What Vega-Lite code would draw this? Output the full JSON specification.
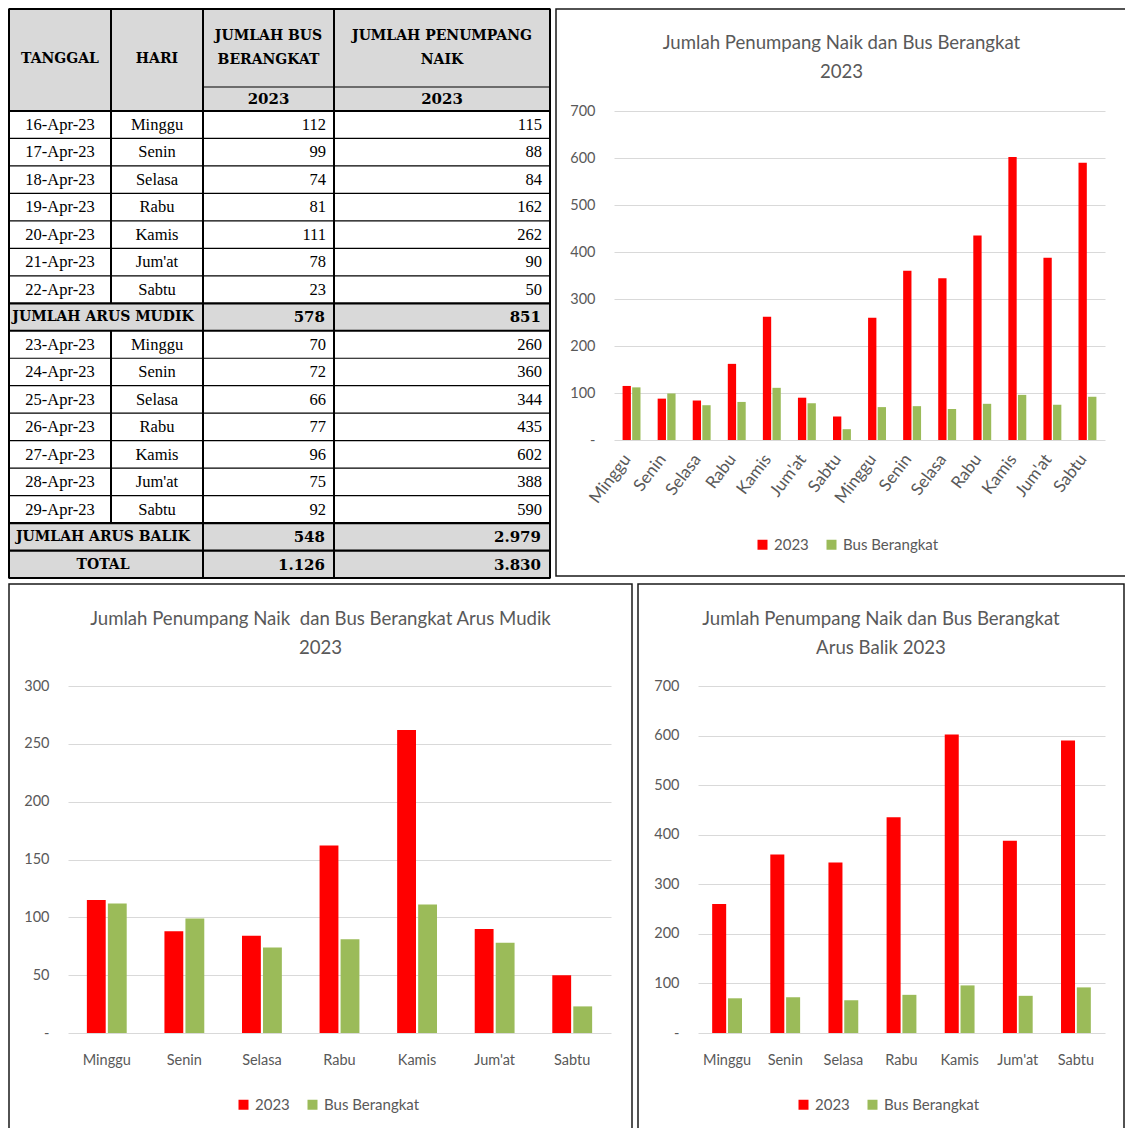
{
  "$schema": "https://vega.github.io/schema/vega-lite/v6.json",
  "padding": {"left": 7, "top": 7, "right": 0, "bottom": 0},
  "background": "white",
  "spacing": 3,
  "resolve": {"scale": {"color": "independent"}, "legend": {"color": "independent"}},
  "datasets": {
    "rows": [
      {"tanggal": "16-Apr-23", "hari": "Minggu", "arus": "mudik", "bus": 112, "pnp": 115, "row": 2},
      {"tanggal": "17-Apr-23", "hari": "Senin", "arus": "mudik", "bus": 99, "pnp": 88, "row": 3},
      {"tanggal": "18-Apr-23", "hari": "Selasa", "arus": "mudik", "bus": 74, "pnp": 84, "row": 4},
      {"tanggal": "19-Apr-23", "hari": "Rabu", "arus": "mudik", "bus": 81, "pnp": 162, "row": 5},
      {"tanggal": "20-Apr-23", "hari": "Kamis", "arus": "mudik", "bus": 111, "pnp": 262, "row": 6},
      {"tanggal": "21-Apr-23", "hari": "Jum'at", "arus": "mudik", "bus": 78, "pnp": 90, "row": 7},
      {"tanggal": "22-Apr-23", "hari": "Sabtu", "arus": "mudik", "bus": 23, "pnp": 50, "row": 8},
      {"tanggal": "23-Apr-23", "hari": "Minggu", "arus": "balik", "bus": 70, "pnp": 260, "row": 10},
      {"tanggal": "24-Apr-23", "hari": "Senin", "arus": "balik", "bus": 72, "pnp": 360, "row": 11},
      {"tanggal": "25-Apr-23", "hari": "Selasa", "arus": "balik", "bus": 66, "pnp": 344, "row": 12},
      {"tanggal": "26-Apr-23", "hari": "Rabu", "arus": "balik", "bus": 77, "pnp": 435, "row": 13},
      {"tanggal": "27-Apr-23", "hari": "Kamis", "arus": "balik", "bus": 96, "pnp": 602, "row": 14},
      {"tanggal": "28-Apr-23", "hari": "Jum'at", "arus": "balik", "bus": 75, "pnp": 388, "row": 15},
      {"tanggal": "29-Apr-23", "hari": "Sabtu", "arus": "balik", "bus": 92, "pnp": 590, "row": 16}
    ],
    "sums": [
      {"label": "JUMLAH ARUS MUDIK", "bus": 578, "pnp": 851, "row": 9},
      {"label": "JUMLAH ARUS BALIK", "bus": 548, "pnp": 2979, "row": 17},
      {"label": "TOTAL", "bus": 1126, "pnp": 3830, "row": 18}
    ]
  },
  "config": {
    "view": {"stroke": "#1a1a1a", "strokeWidth": 1.5},
    "locale": {"number": {"decimal": ",", "thousands": ".", "grouping": [3], "currency": ["", ""]}},
    "axis": {"labelFont": "Lato", "labelFontSize": 14.5, "labelColor": "#595959", "domain": false, "ticks": false, "tickSize": 0},
    "legend": {"labelFont": "Lato", "labelFontSize": 15, "labelColor": "#595959"},
    "title": {"font": "Lato", "fontSize": 18.6, "fontWeight": "normal", "color": "#595959", "lineHeight": 29, "anchor": "middle", "frame": "group"}
  },
  "vconcat": [
    {
      "bounds": "flush",
      "spacing": 6,
      "resolve": {"scale": {"color": "independent"}, "legend": {"color": "independent"}},
      "hconcat": [
        {
          "width": 541,
          "height": 569,
          "layer": [
            {
              "data": {"values": [{"r1": 0, "r2": 2}, {"r1": 9, "r2": 10}, {"r1": 17, "r2": 19}]},
              "mark": {"type": "rect", "color": "#d9d9d9"},
              "encoding": {
                "x": {"datum": 0, "type": "quantitative", "scale": {"domain": [0, 1, 2, 3, 4], "range": [0, 102, 194, 325, 541], "nice": false, "zero": false}, "axis": null},
                "x2": {"datum": 4},
                "y": {"field": "r1", "type": "quantitative", "scale": {"domain": [0, 1, 2, 19], "range": [0, 78, 102, 569], "nice": false, "zero": false}, "axis": null},
                "y2": {"field": "r2"}
              }
            },
            {
              "data": {"values": [
                {"y": 1, "x1": 2, "x2": 4}, {"y": 3, "x1": 0, "x2": 4}, {"y": 4, "x1": 0, "x2": 4}, {"y": 5, "x1": 0, "x2": 4},
                {"y": 6, "x1": 0, "x2": 4}, {"y": 7, "x1": 0, "x2": 4}, {"y": 8, "x1": 0, "x2": 4}, {"y": 11, "x1": 0, "x2": 4},
                {"y": 12, "x1": 0, "x2": 4}, {"y": 13, "x1": 0, "x2": 4}, {"y": 14, "x1": 0, "x2": 4}, {"y": 15, "x1": 0, "x2": 4},
                {"y": 16, "x1": 0, "x2": 4}
              ]},
              "mark": {"type": "rule", "color": "#000", "strokeWidth": 1.2},
              "encoding": {
                "x": {"field": "x1", "type": "quantitative"},
                "x2": {"field": "x2"},
                "y": {"field": "y", "type": "quantitative"}
              }
            },
            {
              "data": {"values": [
                {"y": 0, "x1": 0, "x2": 4}, {"y": 2, "x1": 0, "x2": 4}, {"y": 9, "x1": 0, "x2": 4}, {"y": 10, "x1": 0, "x2": 4},
                {"y": 17, "x1": 0, "x2": 4}, {"y": 18, "x1": 0, "x2": 4}, {"y": 19, "x1": 0, "x2": 4}
              ]},
              "mark": {"type": "rule", "color": "#000", "strokeWidth": 2.2},
              "encoding": {
                "x": {"field": "x1", "type": "quantitative"},
                "x2": {"field": "x2"},
                "y": {"field": "y", "type": "quantitative"}
              }
            },
            {
              "data": {"values": [
                {"x": 0, "y1": 0, "y2": 19}, {"x": 1, "y1": 0, "y2": 9}, {"x": 1, "y1": 10, "y2": 17},
                {"x": 2, "y1": 0, "y2": 19}, {"x": 3, "y1": 0, "y2": 19}, {"x": 4, "y1": 0, "y2": 19}
              ]},
              "mark": {"type": "rule", "color": "#000", "strokeWidth": 2},
              "encoding": {
                "x": {"field": "x", "type": "quantitative"},
                "y": {"field": "y1", "type": "quantitative"},
                "y2": {"field": "y2"}
              }
            },
            {
              "data": {"values": [{}]},
              "mark": {"type": "text", "text": "TANGGAL", "font": "DejaVu Serif", "fontWeight": "bold", "fontSize": 14, "baseline": "middle", "dy": 50},
              "encoding": {"x": {"datum": 0.5, "type": "quantitative"}, "y": {"datum": 0, "type": "quantitative"}}
            },
            {
              "data": {"values": [{}]},
              "mark": {"type": "text", "text": "HARI", "font": "DejaVu Serif", "fontWeight": "bold", "fontSize": 14, "baseline": "middle", "dy": 50},
              "encoding": {"x": {"datum": 1.5, "type": "quantitative"}, "y": {"datum": 0, "type": "quantitative"}}
            },
            {
              "data": {"values": [{}]},
              "mark": {"type": "text", "text": ["JUMLAH BUS", "BERANGKAT"], "font": "DejaVu Serif", "fontWeight": "bold", "fontSize": 14, "baseline": "middle", "lineHeight": 24, "dy": 27},
              "encoding": {"x": {"datum": 2.5, "type": "quantitative"}, "y": {"datum": 0, "type": "quantitative"}}
            },
            {
              "data": {"values": [{}]},
              "mark": {"type": "text", "text": ["JUMLAH PENUMPANG", "NAIK"], "font": "DejaVu Serif", "fontWeight": "bold", "fontSize": 14, "baseline": "middle", "lineHeight": 24, "dy": 27},
              "encoding": {"x": {"datum": 3.5, "type": "quantitative"}, "y": {"datum": 0, "type": "quantitative"}}
            },
            {
              "data": {"values": [{}]},
              "mark": {"type": "text", "text": "2023", "font": "DejaVu Serif", "fontWeight": "bold", "fontSize": 15, "baseline": "middle", "dy": 12},
              "encoding": {"x": {"datum": 2.5, "type": "quantitative"}, "y": {"datum": 1, "type": "quantitative"}}
            },
            {
              "data": {"values": [{}]},
              "mark": {"type": "text", "text": "2023", "font": "DejaVu Serif", "fontWeight": "bold", "fontSize": 15, "baseline": "middle", "dy": 12},
              "encoding": {"x": {"datum": 3.5, "type": "quantitative"}, "y": {"datum": 1, "type": "quantitative"}}
            },
            {
              "data": {"name": "rows"},
              "mark": {"type": "text", "font": "Liberation Serif", "fontSize": 16.5, "baseline": "middle", "dy": 14},
              "encoding": {"x": {"datum": 0.5, "type": "quantitative"}, "y": {"field": "row", "type": "quantitative"}, "text": {"field": "tanggal"}}
            },
            {
              "data": {"name": "rows"},
              "mark": {"type": "text", "font": "Liberation Serif", "fontSize": 16.5, "baseline": "middle", "dy": 14},
              "encoding": {"x": {"datum": 1.5, "type": "quantitative"}, "y": {"field": "row", "type": "quantitative"}, "text": {"field": "hari"}}
            },
            {
              "data": {"name": "rows"},
              "mark": {"type": "text", "font": "Liberation Serif", "fontSize": 16.5, "baseline": "middle", "align": "right", "dx": -8, "dy": 14},
              "encoding": {"x": {"datum": 3, "type": "quantitative"}, "y": {"field": "row", "type": "quantitative"}, "text": {"field": "bus"}}
            },
            {
              "data": {"name": "rows"},
              "mark": {"type": "text", "font": "Liberation Serif", "fontSize": 16.5, "baseline": "middle", "align": "right", "dx": -8, "dy": 14},
              "encoding": {"x": {"datum": 4, "type": "quantitative"}, "y": {"field": "row", "type": "quantitative"}, "text": {"field": "pnp"}}
            },
            {
              "data": {"name": "sums"},
              "mark": {"type": "text", "font": "DejaVu Serif", "fontWeight": "bold", "fontSize": 14, "baseline": "middle", "dx": -8, "dy": 14},
              "encoding": {"x": {"datum": 1, "type": "quantitative"}, "y": {"field": "row", "type": "quantitative"}, "text": {"field": "label"}}
            },
            {
              "data": {"name": "sums"},
              "mark": {"type": "text", "font": "DejaVu Serif", "fontWeight": "bold", "fontSize": 15, "baseline": "middle", "align": "right", "dx": -9, "dy": 14},
              "encoding": {"x": {"datum": 3, "type": "quantitative"}, "y": {"field": "row", "type": "quantitative"}, "text": {"field": "bus", "format": ","}}
            },
            {
              "data": {"name": "sums"},
              "mark": {"type": "text", "font": "DejaVu Serif", "fontWeight": "bold", "fontSize": 15, "baseline": "middle", "align": "right", "dx": -9, "dy": 14},
              "encoding": {"x": {"datum": 4, "type": "quantitative"}, "y": {"field": "row", "type": "quantitative"}, "text": {"field": "pnp", "format": ","}}
            }
          ]
        },
        {
          "width": 571,
          "height": 567,
          "data": {"name": "rows"},
          "title": {"text": ["Jumlah Penumpang Naik dan Bus Berangkat", "2023"], "offset": -73, "baseline": "top"},
          "layer": [
            {
              "mark": {"type": "bar", "width": {"band": 0.237}, "xOffset": -4.8},
              "encoding": {
                "x": {
                  "field": "tanggal", "type": "nominal", "sort": null,
                  "scale": {"range": [58, 549], "paddingInner": 0, "paddingOuter": 0},
                  "axis": {"orient": "bottom", "offset": -136, "grid": false, "labelAngle": -53, "labelAlign": "right", "labelBaseline": "middle", "labelPadding": 16, "labelOffset": -4, "labelFontSize": 17, "title": null,
                    "labelExpr": "({'16-Apr-23':'Minggu','17-Apr-23':'Senin','18-Apr-23':'Selasa','19-Apr-23':'Rabu','20-Apr-23':'Kamis','21-Apr-23':\"Jum'at\",'22-Apr-23':'Sabtu','23-Apr-23':'Minggu','24-Apr-23':'Senin','25-Apr-23':'Selasa','26-Apr-23':'Rabu','27-Apr-23':'Kamis','28-Apr-23':\"Jum'at\",'29-Apr-23':'Sabtu'})[datum.value]"}
                },
                "y": {
                  "field": "pnp", "type": "quantitative",
                  "scale": {"domain": [0, 700], "range": [431, 102], "nice": false, "zero": false},
                  "axis": {"values": [0, 100, 200, 300, 400, 500, 600, 700], "offset": -39, "labelPadding": 0, "grid": true, "gridColor": "#d9d9d9", "title": null,
                    "labelExpr": "datum.value == 0 ? '-\u00a0\u00a0' : datum.label"}
                },
                "color": {
                  "datum": "2023", "type": "nominal",
                  "scale": {"domain": ["2023", "Bus Berangkat"], "range": ["#ff0000", "#9bbb59"]},
                  "legend": {"orient": "none", "legendX": 199, "legendY": 528, "direction": "horizontal", "title": null, "symbolType": "square", "symbolSize": 100, "symbolStrokeWidth": 0, "columnPadding": 15, "labelOffset": 4}
                }
              }
            },
            {
              "mark": {"type": "bar", "width": {"band": 0.237}, "xOffset": 4.8},
              "encoding": {
                "x": {"field": "tanggal", "type": "nominal", "sort": null},
                "y": {"field": "bus", "type": "quantitative"},
                "color": {"datum": "Bus Berangkat", "type": "nominal"}
              }
            }
          ]
        }
      ]
    },
    {
      "bounds": "flush",
      "spacing": 6,
      "resolve": {"scale": {"color": "independent"}, "legend": {"color": "independent"}},
      "hconcat": [
        {
          "width": 623,
          "height": 546,
          "data": {"name": "rows"},
          "transform": [{"filter": "datum.arus == 'mudik'"}],
          "title": {"text": ["Jumlah Penumpang Naik\u00a0 dan Bus Berangkat Arus Mudik", "2023"], "offset": -74, "baseline": "top"},
          "layer": [
            {
              "mark": {"type": "bar", "width": {"band": 0.243}, "xOffset": -10.5},
              "encoding": {
                "x": {
                  "field": "hari", "type": "nominal", "sort": null,
                  "scale": {"range": [59, 602], "paddingInner": 0, "paddingOuter": 0},
                  "axis": {"orient": "bottom", "offset": -97, "grid": false, "labelAngle": 0, "labelAlign": "center", "labelBaseline": "middle", "labelPadding": 27, "title": null}
                },
                "y": {
                  "field": "pnp", "type": "quantitative",
                  "scale": {"domain": [0, 300], "range": [449, 102], "nice": false, "zero": false},
                  "axis": {"values": [0, 50, 100, 150, 200, 250, 300], "offset": -40, "labelPadding": 0, "grid": true, "gridColor": "#d9d9d9", "title": null,
                    "labelExpr": "datum.value == 0 ? '-\u00a0\u00a0' : datum.label"}
                },
                "color": {
                  "datum": "2023", "type": "nominal",
                  "scale": {"domain": ["2023", "Bus Berangkat"], "range": ["#ff0000", "#9bbb59"]},
                  "legend": {"orient": "none", "legendX": 227, "legendY": 513, "direction": "horizontal", "title": null, "symbolType": "square", "symbolSize": 100, "symbolStrokeWidth": 0, "columnPadding": 15, "labelOffset": 4}
                }
              }
            },
            {
              "mark": {"type": "bar", "width": {"band": 0.243}, "xOffset": 10.5},
              "encoding": {
                "x": {"field": "hari", "type": "nominal", "sort": null},
                "y": {"field": "bus", "type": "quantitative"},
                "color": {"datum": "Bus Berangkat", "type": "nominal"}
              }
            }
          ]
        },
        {
          "width": 486,
          "height": 546,
          "data": {"name": "rows"},
          "transform": [{"filter": "datum.arus == 'balik'"}],
          "title": {"text": ["Jumlah Penumpang Naik dan Bus Berangkat", "Arus Balik 2023"], "offset": -74, "baseline": "top"},
          "layer": [
            {
              "mark": {"type": "bar", "width": {"band": 0.241}, "xOffset": -7.9},
              "encoding": {
                "x": {
                  "field": "hari", "type": "nominal", "sort": null,
                  "scale": {"range": [60, 467], "paddingInner": 0, "paddingOuter": 0},
                  "axis": {"orient": "bottom", "offset": -97, "grid": false, "labelAngle": 0, "labelAlign": "center", "labelBaseline": "middle", "labelPadding": 27, "title": null}
                },
                "y": {
                  "field": "pnp", "type": "quantitative",
                  "scale": {"domain": [0, 700], "range": [449, 102], "nice": false, "zero": false},
                  "axis": {"values": [0, 100, 200, 300, 400, 500, 600, 700], "offset": -41, "labelPadding": 0, "grid": true, "gridColor": "#d9d9d9", "title": null,
                    "labelExpr": "datum.value == 0 ? '-\u00a0\u00a0' : datum.label"}
                },
                "color": {
                  "datum": "2023", "type": "nominal",
                  "scale": {"domain": ["2023", "Bus Berangkat"], "range": ["#ff0000", "#9bbb59"]},
                  "legend": {"orient": "none", "legendX": 158, "legendY": 513, "direction": "horizontal", "title": null, "symbolType": "square", "symbolSize": 100, "symbolStrokeWidth": 0, "columnPadding": 15, "labelOffset": 4}
                }
              }
            },
            {
              "mark": {"type": "bar", "width": {"band": 0.241}, "xOffset": 7.9},
              "encoding": {
                "x": {"field": "hari", "type": "nominal", "sort": null},
                "y": {"field": "bus", "type": "quantitative"},
                "color": {"datum": "Bus Berangkat", "type": "nominal"}
              }
            }
          ]
        }
      ]
    }
  ]
}
